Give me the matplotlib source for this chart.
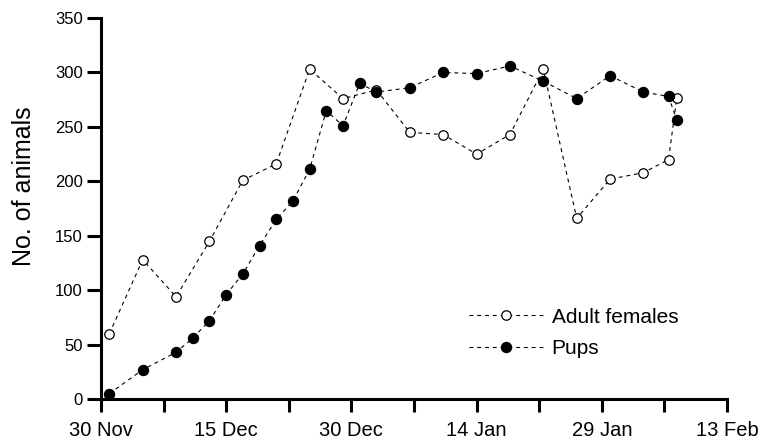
import matplotlib
matplotlib.use("Agg")
import matplotlib.pyplot as plt

plt.rcParams['font.family'] = ['Liberation Sans', 'DejaVu Sans']

# days since 30 Nov
adult_days = [1, 5, 9, 13, 17, 21, 25, 29, 33, 37, 41, 45, 49, 53, 57, 61, 65, 68, 69]
adult_vals = [60, 128, 94, 145, 201, 216, 303, 276, 284, 245, 243, 225, 243, 303, 166, 202, 208, 220, 277]

pup_days = [1, 5, 9, 11, 13, 15, 17, 19, 21, 23, 25, 27, 29, 31, 33, 37, 41, 45, 49, 53, 57, 61, 65, 68, 69]
pup_vals = [5, 27, 43, 56, 72, 96, 115, 141, 165, 182, 211, 265, 251, 290, 282, 286, 300, 299, 306, 292, 276, 297, 282, 278, 256]

major_days = [0, 15, 30, 45, 60, 75]
major_labels = ["30 Nov", "15 Dec", "30 Dec", "14 Jan", "29 Jan", "13 Feb"]
minor_days = [7.5, 22.5, 37.5, 52.5, 67.5]
y_ticks = [0, 50, 100, 150, 200, 250, 300, 350]


def main():
    fig = plt.figure(figsize=(7.62, 4.4), dpi=100)
    ax = fig.add_axes([0.1325, 0.093, 0.8215, 0.866])

    dash = (0, (3.5, 3.5))
    ax.plot(adult_days, adult_vals, color="black", lw=0.8, linestyle=dash,
            marker="o", markersize=6.8, markerfacecolor="white",
            markeredgecolor="black", markeredgewidth=0.9, label="Adult females")
    ax.plot(pup_days, pup_vals, color="black", lw=0.8, linestyle=dash,
            marker="o", markersize=7.2, markerfacecolor="black",
            markeredgecolor="black", label="Pups")

    ax.set_xlim(0, 75)
    ax.set_ylim(0, 350)
    ax.set_xticks(major_days)
    ax.set_xticklabels(major_labels)
    ax.set_xticks(minor_days, minor=True)
    ax.set_yticks(y_ticks)

    for s in ["top", "right"]:
        ax.spines[s].set_visible(False)
    for s in ["left", "bottom"]:
        ax.spines[s].set_linewidth(2.2)

    ax.tick_params(axis="both", which="both", width=2.2, direction="out")
    ax.tick_params(axis="x", which="both", length=9, labelsize=14.5, pad=7)
    ax.tick_params(axis="y", length=10, labelsize=12, pad=3)

    ax.set_ylabel("No. of animals", fontsize=18)
    ax.yaxis.set_label_coords(-0.103, 0.56)

    ax.legend(loc="upper left", bbox_to_anchor=(0.572, 0.267), frameon=False,
              fontsize=15, handlelength=3.55, handletextpad=0.4,
              labelspacing=0.6, borderpad=0)

    fig.savefig("out.png", dpi=100)


if __name__ == '__main__':
    main()
